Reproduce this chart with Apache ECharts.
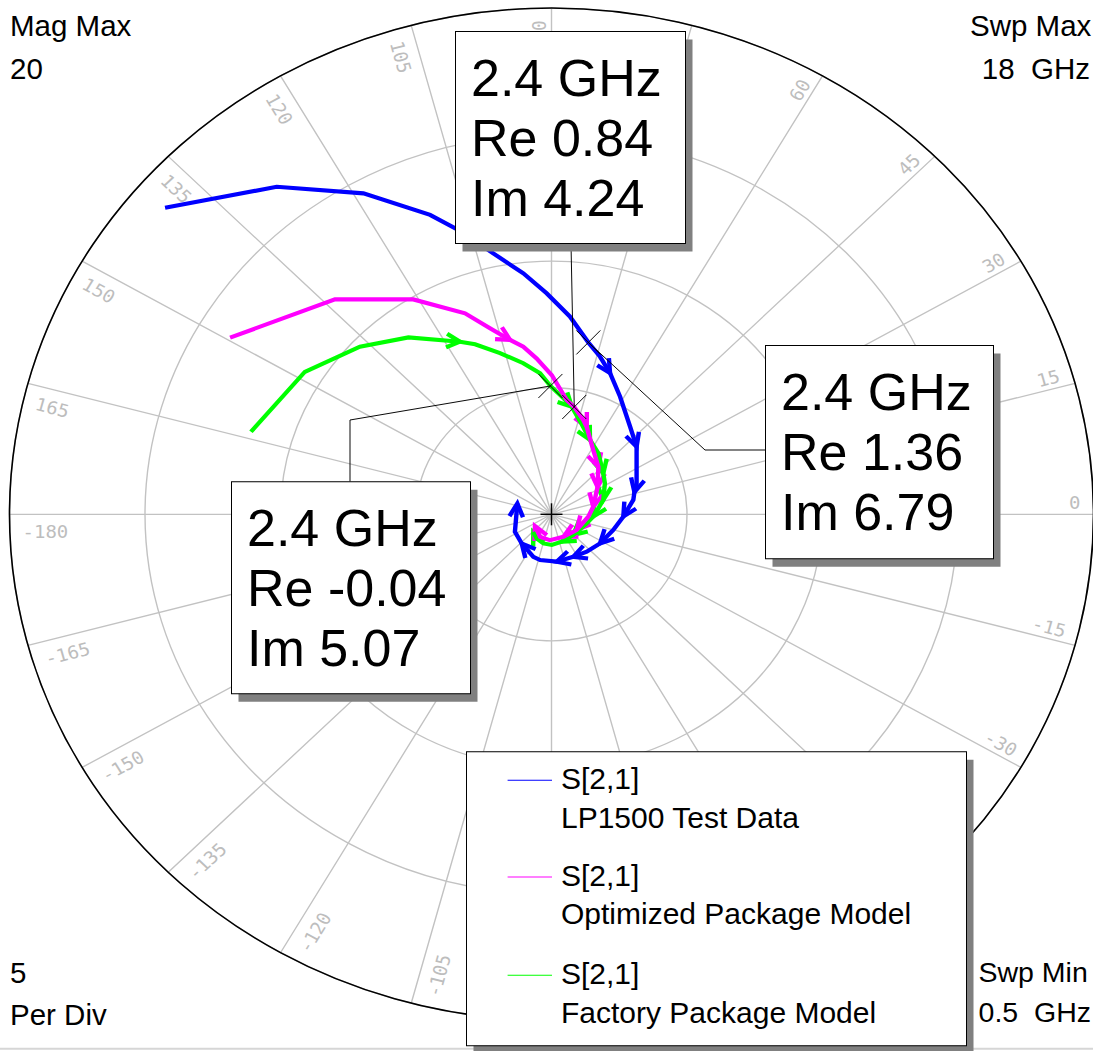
<!DOCTYPE html>
<html>
<head>
<meta charset="utf-8">
<script src="https://cdn.jsdelivr.net/npm/echarts@6/dist/echarts.min.js"></script>
<style>
html,body{margin:0;padding:0;background:#fff;overflow:hidden;width:1093px;height:1051px;}
#main{width:1093px;height:1126px;transform:scaleY(0.934);transform-origin:0 0;}
</style>
</head>
<body>
<div id="main"></div>
<script>
// vertical squash of the plot (the reference polar grid is an ellipse)
const K = 0.934;

// ---------------- data ----------------
const magTicks = [0, 5, 10, 15, 20];
const angleTicks = [-180,-165,-150,-135,-120,-105,-90,-75,-60,-45,-30,-15,0,15,30,45,60,75,90,105,120,135,150,165];

// S[2,1] traces, [Re, Im], swept 0.5 GHz -> 18 GHz
const testData = [[-14.26,12.11],[-10.14,12.94],[-6.94,12.68],[-4.48,11.83],[-3.30,11.15],[-2.15,10.31],
  [-1.04,9.52],[-0.18,8.73],[0.68,7.81],[1.36,6.79],[1.79,6.23],[2.16,5.58],[2.53,4.65],[2.90,3.46],
  [3.14,2.67],[3.14,1.22],[3.06,0.88],[3.02,0.57],[2.65,-0.09],[2.28,-0.62],[1.79,-1.15],[1.30,-1.48],
  [0.80,-1.68],[0.19,-1.87],[-0.42,-1.81],[-0.67,-1.68],[-1.10,-1.15],[-1.35,-0.69],[-1.26,0.43]];
const testArrows = [11,14,16,18,20,22,23,26,28];

const optData = [[-11.86,6.98],[-7.99,8.49],[-5.10,8.49],[-3.19,7.94],[-2.27,7.35],[-1.53,6.89],
  [-1.04,6.62],[-0.55,6.16],[0.01,5.50],[0.56,4.52],[0.84,4.24],[1.17,3.73],[1.30,3.45],[1.54,2.54],
  [1.73,1.87],[1.70,1.08],[1.54,0.30],[1.36,-0.09],[0.93,-0.62],[0.44,-0.89],[-0.06,-1.02],
  [-0.42,-0.89],[-0.61,-0.46]];
const optArrows = [5,12,14,15,16,18,19,22];

const factData = [[-11.09,3.26],[-9.10,5.63],[-7.07,6.62],[-5.28,6.99],[-3.38,6.82],[-2.82,6.72],
  [-1.90,6.37],[-1.04,5.97],[-0.42,5.57],[-0.04,5.07],[0.38,4.65],[0.75,4.25],[1.09,3.61],[1.42,2.94],
  [1.73,2.41],[1.91,1.62],[1.97,1.22],[1.91,0.57],[1.73,0.24],[1.54,-0.09],[1.30,-0.36],[0.80,-0.82],
  [0.38,-1.08],[0.01,-1.21],[-0.30,-1.15],[-0.55,-0.95],[-0.67,-0.69]];
const factArrows = [4,11,13,15,17,19,21,22,26];

// markers at 2.4 GHz, [Re, Im]
const markerFreq = '2.4 GHz';
const markerValues = [[1.36, 6.79], [0.84, 4.24], [-0.04, 5.07]];

const seriesNames = ['S[2,1]\nLP1500 Test Data', 'S[2,1]\nOptimized Package Model', 'S[2,1]\nFactory Package Model'];
const seriesColors = ['#0000ff', '#ff00ff', '#00ff00'];

// ---------------- helpers ----------------
const toPolar = p => [Math.hypot(p[0], p[1]), Math.atan2(p[1], p[0]) * 180 / Math.PI];
const fmt = v => (v < 0 ? '-' : '') + Math.abs(v).toFixed(2);

const FONT = '"Liberation Sans", Arial, Helvetica, sans-serif';
const ARM = 15, HALF = 27 * Math.PI / 180, LW = 4.4;

function lineSeries(data, color, name) {
  return {
    type: 'line', name: name, coordinateSystem: 'polar', data: data.map(toPolar),
    showSymbol: false, symbol: 'none', silent: true, z: 3,
    lineStyle: { color: color, width: LW, join: 'miter' }, itemStyle: { color: color }
  };
}

function arrowSeries(data, idxs, color) {
  const pd = data.map(toPolar);
  return {
    type: 'custom', coordinateSystem: 'polar', silent: true, z: 3,
    encode: { radius: 0, angle: 1 },
    data: idxs.map(i => [pd[i][0], pd[i][1], pd[i - 1][0], pd[i - 1][1]]),
    renderItem: function (params, api) {
      const p = api.coord([api.value(0), api.value(1)]);
      const q = api.coord([api.value(2), api.value(3)]);
      const px = p[0], py = p[1] * K, qx = q[0], qy = q[1] * K;
      let dx = px - qx, dy = py - qy;
      const L = Math.hypot(dx, dy) || 1; dx /= L; dy /= L;
      const bx = -dx, by = -dy, c = Math.cos(HALF), s = Math.sin(HALF);
      const a1 = [px + ARM * (bx * c - by * s), py + ARM * (bx * s + by * c)];
      const a2 = [px + ARM * (bx * c + by * s), py + ARM * (-bx * s + by * c)];
      return {
        type: 'polyline',
        shape: { points: [[a1[0], a1[1] / K], [px, py / K], [a2[0], a2[1] / K]] },
        style: { stroke: color, lineWidth: LW, fill: null, lineJoin: 'miter' }
      };
    }
  };
}

// leader-line routes from marker to its readout box (page px)
const leaderRoutes = [
  [[705, 450], [765, 450]],
  [[571, 243.5]],
  [[350, 420], [350, 481.5]]
];

const option = {
  animation: false,
  backgroundColor: '#ffffff',
  polar: { center: [551.5, 514.3 / K], radius: 542 },
  radiusAxis: {
    type: 'value', min: magTicks[0], max: magTicks[magTicks.length - 1], interval: 5,
    axisLine: { show: false }, axisTick: { show: false }, axisLabel: { show: false },
    splitLine: { show: true, lineStyle: { color: '#c2c2c2', width: 1.4 } }
  },
  angleAxis: {
    type: 'value', min: -180, max: 180, interval: 15, startAngle: 180, clockwise: false,
    axisLine: { show: true, lineStyle: { color: '#000', width: 1.6 } },
    axisTick: { show: false }, axisLabel: { show: false },
    splitLine: { show: true, lineStyle: { color: '#c2c2c2', width: 1.4 } }
  },
  series: [
    // angle tick labels
    {
      type: 'custom', coordinateSystem: 'polar', silent: true, z: 1,
      encode: { radius: 0, angle: 1 },
      data: angleTicks.map(a => [19.52, a]),
      renderItem: function (params, api) {
        const th = api.value(1);
        const p = api.coord([api.value(0), th]);
        const right = th >= -90 && th <= 90;
        const rot = (right ? th : th - 180) * Math.PI / 180;
        return {
          type: 'text', x: p[0], y: p[1], rotation: rot,
          style: {
            text: String(th), x: 0, y: right ? -12 : 19,
            align: right ? 'right' : 'left', verticalAlign: 'middle',
            fill: '#bdbdbd', font: '19px "DejaVu Sans Mono", monospace'
          }
        };
      }
    },
    lineSeries(factData, seriesColors[2], seriesNames[2]),
    arrowSeries(factData, factArrows, seriesColors[2]),
    lineSeries(optData, seriesColors[1], seriesNames[1]),
    arrowSeries(optData, optArrows, seriesColors[1]),
    lineSeries(testData, seriesColors[0], seriesNames[0]),
    arrowSeries(testData, testArrows, seriesColors[0]),
    // markers with leader lines
    {
      type: 'custom', coordinateSystem: 'polar', silent: true, z: 10,
      encode: { radius: 0, angle: 1 },
      data: markerValues.map(toPolar),
      renderItem: function (params, api) {
        const p = api.coord([api.value(0), api.value(1)]);
        const x = p[0], y = p[1] * K, h = 12;
        const route = leaderRoutes[params.dataIndex];
        const pts = [[x, y / K]].concat(route.map(r => [r[0], r[1] / K]));
        const st = { stroke: '#000', lineWidth: 1, fill: null };
        return {
          type: 'group', children: [
            { type: 'line', shape: { x1: x - h, y1: (y + h) / K, x2: x + h, y2: (y - h) / K }, style: st },
            { type: 'line', shape: { x1: x - h, y1: (y - h) / K, x2: x + h, y2: (y + h) / K }, style: st },
            { type: 'polyline', shape: { points: pts }, style: st }
          ]
        };
      }
    },
    // centre cross
    {
      type: 'custom', coordinateSystem: 'polar', silent: true, z: 10,
      encode: { radius: 0, angle: 1 },
      data: [[0, 0]],
      renderItem: function (params, api) {
        const p = api.coord([0, 0]);
        const h = 11, st = { stroke: '#000', lineWidth: 1.5 };
        return {
          type: 'group', children: [
            { type: 'line', shape: { x1: p[0] - h, y1: p[1], x2: p[0] + h, y2: p[1] }, style: st },
            { type: 'line', shape: { x1: p[0], y1: p[1] - h / K, x2: p[0], y2: p[1] + h / K }, style: st }
          ]
        };
      }
    }
  ]
};

// ---------------- annotations (page px, un-squashed) ----------------
const Z = 100;
function T(text, x, y, size, align) {
  const a = align || 'left';
  return {
    type: 'text', x: x, y: y, z: Z + 3, silent: true,
    style: {
      text: text, font: size + 'px ' + FONT, fill: '#000',
      align: a, verticalAlign: 'middle', textAlign: a, textVerticalAlign: 'middle'
    }
  };
}
function box(x, y, w, h, z) {
  return [
    { type: 'rect', z: z, silent: true, shape: { x: x + 7, y: y + 8, width: w, height: h }, style: { fill: '#808080' } },
    { type: 'rect', z: z + 1, silent: true, shape: { x: x, y: y, width: w, height: h }, style: { fill: '#fff', stroke: '#000', lineWidth: 1 } }
  ];
}
const kids = [];
kids.push(T('Mag Max', 10, 25.5, 29.5), T(String(magTicks[magTicks.length - 1]), 10, 68.8, 29.5));
kids.push(T('Swp Max', 970, 25.5, 29.5), T('18\u00a0\u00a0GHz', 1090, 68.5, 29.5, 'right'));
kids.push(T(String(magTicks[1] - magTicks[0]), 10, 972.2, 29.5), T('Per Div', 10, 1014, 29.5));
kids.push(T('Swp Min', 978.5, 972, 28.5), T('0.5\u00a0\u00a0GHz', 1091, 1012, 28.5, 'right'));
kids.push({ type: 'line', z: Z, silent: true, shape: { x1: 0, y1: 1048.5, x2: 1093, y2: 1048.5 }, style: { stroke: '#d6d6d6', lineWidth: 2 } });

// readout boxes: [x, y, w, h] for blue, magenta, green markers
const boxRects = [[765.5, 345.5, 228, 213], [455.5, 31.5, 230, 212], [231.5, 481.5, 239, 212]];
boxRects.forEach((b, i) => {
  box(b[0], b[1], b[2], b[3], Z).forEach(e => kids.push(e));
  const v = markerValues[i];
  kids.push(T(markerFreq, b[0] + 15.5, b[1] + 46.5, 52));
  kids.push(T('Re ' + fmt(v[0]), b[0] + 15.5, b[1] + 106.5, 52));
  kids.push(T('Im ' + fmt(v[1]), b[0] + 15.5, b[1] + 166.5, 52));
});

// legend
box(466.5, 751.5, 500, 294, Z).forEach(e => kids.push(e));
const legendY = [780, 876.7, 975];
seriesNames.forEach((n, i) => {
  const y = legendY[i];
  kids.push({ type: 'line', z: Z + 3, silent: true, shape: { x1: 507.6, y1: y, x2: 552, y2: y }, style: { stroke: seriesColors[i], lineWidth: 1 } });
  const parts = n.split('\n');
  kids.push(T(parts[0], 561, y - 1.3, 30));
  kids.push(T(parts[1], 561, y + 37, 30));
});

option.graphic = { elements: [{ type: 'group', x: 0, y: 0, scaleY: 1 / K, z: Z, children: kids }] };

const chart = echarts.init(document.getElementById('main'), null, { renderer: 'svg', width: 1093, height: 1126 });
chart.setOption(option);
</script>
</body>
</html>
